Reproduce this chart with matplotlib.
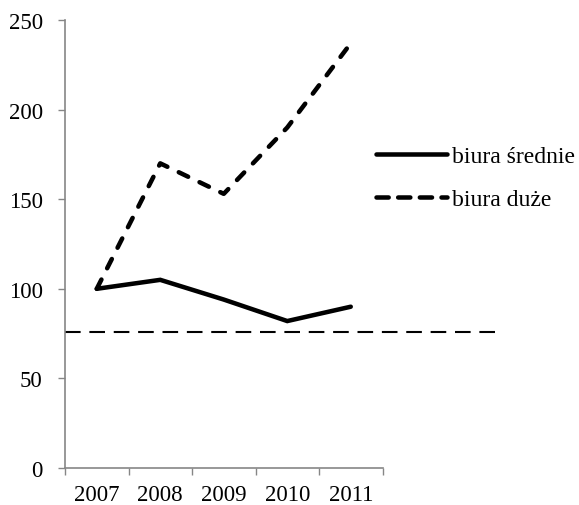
import matplotlib
matplotlib.use('Agg')
import matplotlib.pyplot as plt
from matplotlib.lines import Line2D

years = ['2007', '2008', '2009', '2010', '2011']
biura_srednie = [100, 105, 94, 82, 90]
biura_duze = [100, 170, 153, 190, 237]
poziom_ref = 76

plt.rcParams['font.family'] = ['Liberation Serif', 'DejaVu Serif']
fs = 16.5

fig = plt.figure(figsize=(5.79, 5.06), dpi=100)
ax = fig.add_axes([65 / 579, 1 - 469 / 506, (382.5 - 65) / 579, (469 - 21) / 506])

x = list(range(len(years)))
ax.plot(x, biura_srednie, color='black', lw=3.25, solid_capstyle='round',
        solid_joinstyle='miter')
ax.plot(x, biura_duze, color='black', lw=3.25, dashes=(2.3, 2.8),
        dash_capstyle='round', dash_joinstyle='round')

# reference level, runs past the last category
ax.axhline(poziom_ref, xmin=0, xmax=(503 - 65) / (382.5 - 65), color='black',
           lw=1.5, dashes=(7.5, 4.2), clip_on=False)

ax.set_xlim(-0.5, len(years) - 0.5)
ax.set_ylim(0, 250)
ax.set_yticks(range(0, 251, 50))

ax.set_xticks([i - 0.5 for i in range(len(years) + 1)])
ax.set_xticklabels([])
ax.set_xticks(x, minor=True)
ax.set_xticklabels(years, minor=True)
ax.tick_params(axis='x', which='minor', length=0, pad=11.5, labelsize=fs)
ax.tick_params(axis='x', which='major', length=5, width=1, color='#868686')
ax.tick_params(axis='y', length=5, width=1, color='#868686', labelsize=fs, pad=11)

for side in ['top', 'right']:
    ax.spines[side].set_visible(False)
for side in ['left', 'bottom']:
    ax.spines[side].set_color('#868686')
    ax.spines[side].set_linewidth(1.2)

handles = [
    Line2D([], [], color='black', lw=3.25, solid_capstyle='round'),
    Line2D([], [], color='black', lw=3.25, dashes=(2.7, 2.1), dash_capstyle='round'),
]
fig.legend(handles, ['biura średnie', 'biura duże'], loc='center left',
           bbox_to_anchor=(376 / 579, 1 - 179 / 506), frameon=False,
           fontsize=17, handlelength=3.0, handletextpad=0.2, labelspacing=0.9,
           borderpad=0, borderaxespad=0)

fig.savefig('out.png', dpi=100)
